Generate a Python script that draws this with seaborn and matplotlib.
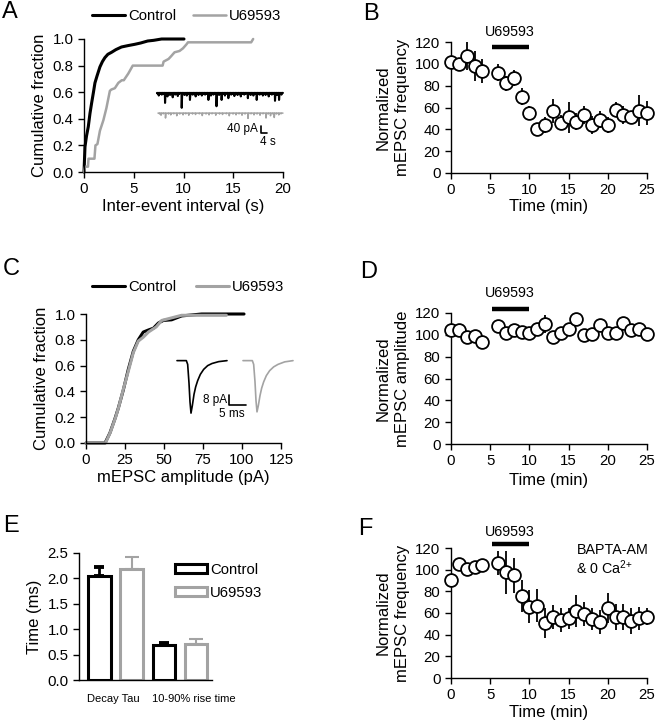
import numpy as np
import pandas as pd
import seaborn as sns
import matplotlib.pyplot as plt
from matplotlib.ticker import FormatStrFormatter
from matplotlib.transforms import ScaledTranslation

W, H = 656, 720
GRAY = '#a3a3a3'

# A: cumulative inter-event interval (s)
iei_ctrl_x = [0, 0.1, 0.25, 0.43, 0.6, 0.77, 0.95, 1.1, 1.3, 1.6, 1.85, 2.1, 2.4, 2.77, 3.2, 3.77, 4.4, 5.1, 5.7, 6.4, 7.0, 7.8, 10.05]
iei_ctrl_y = [0, 0.19, 0.27, 0.34, 0.44, 0.52, 0.60, 0.67, 0.72, 0.79, 0.83, 0.86, 0.885, 0.90, 0.92, 0.94, 0.95, 0.96, 0.97, 0.985, 0.99, 1.0, 1.0]
iei_u_x = [0, 0.1, 0.4, 0.45, 1.05, 1.15, 1.35, 1.6, 1.95, 2.25, 2.6, 2.75, 3.1, 3.45, 3.8, 4.0, 4.45, 4.9, 7.9, 8.0, 8.5, 8.75, 9.1, 9.6, 9.95, 10.3, 10.45, 16.8, 17.0]
iei_u_y = [0, 0.04, 0.04, 0.1, 0.1, 0.2, 0.21, 0.31, 0.39, 0.48, 0.61, 0.62, 0.63, 0.67, 0.69, 0.69, 0.74, 0.8, 0.8, 0.83, 0.85, 0.87, 0.9, 0.91, 0.93, 0.96, 0.975, 0.975, 1.0]

# A inset: example recordings, event times (s) and amplitudes (pA)
ctrl_spk_t = [1.8, 2.5, 3.6, 4.5, 5.4, 6.7, 7.4, 8.3, 9.2, 10.0, 11.0, 11.8, 12.6, 13.4, 14.3, 15.2,
              16.2, 17.8, 18.7, 19.6, 20.4, 21.2, 22.2, 23.3, 24.1, 25.0, 26.0, 27.1, 28.0, 29.0,
              30.1, 31.2, 32.3, 33.4, 34.5, 35.6, 36.4, 37.3, 38.2, 39.0, 40.0, 41.0, 41.8, 42.7,
              43.5, 44.4, 45.5, 46.6, 47.7, 48.9, 49.8, 50.8, 51.8, 52.9, 54.0, 55.0, 56.1, 57.2,
              58.3, 59.5, 60.6, 61.9, 62.9, 63.8, 64.7, 65.6, 66.7, 67.8, 68.8, 69.8, 70.9, 71.9,
              72.8, 73.7, 74.8, 75.8, 76.9, 77.9, 79.0, 80.0, 81.4, 82.7, 83.5, 84.3]
ctrl_spk_a = [6, 15, 5, 10, 7, 57, 5, 20, 6, 12, 8, 25, 5, 10, 7, 18,
              6, 85, 5, 12, 7, 15, 6, 40, 5, 10, 8, 20, 6, 12,
              5, 15, 7, 10, 6, 40, 5, 15, 7, 10, 6, 76, 5, 12,
              7, 40, 6, 15, 5, 30, 7, 10, 6, 18, 5, 12, 8, 20,
              6, 10, 5, 30, 7, 12, 6, 15, 5, 40, 7, 10, 6, 15,
              5, 12, 7, 20, 6, 10, 5, 45, 12, 40, 6, 10]
u_spk_t = [3.0, 4.0, 5.5, 7.0, 9.0, 10.5, 12.5, 14.5, 16.5, 18.7, 20.5, 22.5, 25.0, 27.0, 29.5,
           31.5, 34.0, 36.0, 38.0, 40.5, 43.0, 45.0, 47.5, 49.5, 52.0, 54.0, 56.0, 58.0, 60.0, 62.0,
           64.0, 66.0, 68.0, 70.0, 72.0, 74.0, 75.5, 77.0, 78.5, 79.5, 81.0, 82.5, 84.0]
u_spk_a = [5, 12, 4, 28, 5, 10, 4, 15, 5, 10, 4, 12, 5, 8, 4,
           14, 5, 10, 4, 12, 5, 8, 4, 15, 5, 10, 4, 12, 5, 30,
           4, 10, 5, 12, 4, 28, 5, 15, 4, 25, 5, 10, 4]

# C: cumulative amplitude (pA)
amp_ctrl_x = [0, 12.2, 15.4, 18.6, 20.7, 23.9, 27.1, 30.3, 33.5, 36.7, 40.0, 43.2, 46.4, 49.6, 54.9, 61.3, 74.1, 101.3]
amp_ctrl_y = [0, 0, 0.08, 0.19, 0.27, 0.41, 0.57, 0.71, 0.80, 0.86, 0.876, 0.89, 0.93, 0.95, 0.955, 0.985, 1.0, 1.0]
amp_u_x = [0, 12.5, 15.5, 19.0, 21.0, 24.0, 27.2, 30.3, 33.5, 36.7, 40.0, 45.0, 48.5, 54.9, 61.3, 90.0]
amp_u_y = [0, 0, 0.08, 0.2, 0.28, 0.42, 0.56, 0.70, 0.79, 0.82, 0.86, 0.90, 0.95, 0.97, 0.99, 0.99]

# C inset: averaged mEPSCs (ms, pA)
mini_t = [0, 2.8, 3.2, 3.6, 3.9, 4.2, 4.6, 5.1, 5.6, 6.2, 7.0, 8.0, 9.2, 10.5, 12.5, 15.0]
mini_ctrl = [0, 0, -3, -18, -33, -42, -36, -27, -21, -16, -11, -7, -4, -2.3, -0.8, 0]
mini_u = [0, 0, -3, -17, -32, -41, -36, -28, -22, -17, -12, -8, -5, -3, -1, 0]

# B, D, F: time courses (min)
t_min = [0, 1, 2, 3, 4, 6, 7, 8, 9, 10, 11, 12, 13, 14, 15, 16, 17, 18, 19, 20, 21, 22, 23, 24, 25]
freq_b = [102, 100, 107, 98, 93, 92, 82, 87, 70, 55, 40, 44, 57, 46, 51, 47, 53, 44, 49, 44, 58, 53, 51, 57, 55]
freq_b_err = [5, 5, 13, 14, 11, 8, 7, 7, 8, 6, 5, 7, 11, 7, 14, 8, 8, 8, 8, 7, 7, 8, 5, 14, 11]
amp_d = [104, 104.4, 97.7, 98.9, 93.7, 108.1, 101.4, 104.4, 102.3, 102, 105, 109.9, 98.3, 101.4, 105,
         114.5, 99.8, 100.4, 109, 101.4, 101.4, 111.1, 104.4, 105, 100.4]
amp_d_err = [3, 3, 3, 3, 3, 3, 3, 3, 3, 3, 3, 8, 3, 3, 3, 3, 3, 3, 3, 3, 3, 3, 3, 3, 3]
freq_f = [90.5, 105.5, 101, 102.8, 104, 105.8, 97.6, 94.8, 75.7, 65.8, 66.8, 50.5, 56.6, 53.5, 55,
          61.8, 58.8, 54.5, 51.4, 64.9, 56.6, 56.6, 52.6, 55, 56.6]
freq_f_err = [3, 3, 3, 3, 3, 11, 20, 16, 15, 15, 15, 14, 11, 11, 10, 15, 11, 10, 11, 14, 12, 12, 12, 11, 8]
drug_on, drug_off = 5.2, 9.9

# E: kinetics (ms)
measures = ['Decay Tau', '10-90% rise time']
conds = ['Control', 'U69593']
kin_ctrl = [2.05, 0.69]
kin_ctrl_err = [0.17, 0.04]
kin_u = [2.18, 0.71]
kin_u_err = [0.25, 0.09]

sns.set_style('ticks')
plt.rcParams['font.family'] = ['Liberation Sans', 'DejaVu Sans']
plt.rcParams.update({
    'axes.edgecolor': 'black', 'axes.linewidth': 1.0, 'axes.labelcolor': 'black',
    'xtick.color': 'black', 'ytick.color': 'black', 'text.color': 'black',
    'xtick.major.size': 4, 'ytick.major.size': 4,
    'xtick.major.width': 1.0, 'ytick.major.width': 1.0,
    'xtick.labelsize': 10.8, 'ytick.labelsize': 10.8, 'axes.labelsize': 12,
    'mathtext.fontset': 'custom', 'mathtext.rm': 'Liberation Sans',
})

fig = plt.figure(figsize=(W / 100, H / 100), dpi=100)


def px_axes(left, right, top, bottom):
    return fig.add_axes([left / W, 1 - bottom / H, (right - left) / W, (bottom - top) / H])


def trace(times, amps, start, end, offset):
    xs, ys = [start], [offset]
    for t, a in zip(times, amps):
        xs += [t - 0.15, t, t + 0.35]
        ys += [offset, offset - a, offset]
    xs.append(end)
    ys.append(offset)
    return xs, ys


# ---------------- A ----------------
ax = px_axes(84, 283, 39, 172)
sns.lineplot(x=iei_ctrl_x, y=iei_ctrl_y, sort=False, estimator=None, color='black', lw=2.2, label='Control', ax=ax)
sns.lineplot(x=iei_u_x, y=iei_u_y, sort=False, estimator=None, color=GRAY, lw=1.8, label='U69593', ax=ax)
for ln in ax.lines:
    ln.set_clip_on(False)
ax.set_xlim(0, 20)
ax.set_ylim(0, 1)
ax.set_xticks([0, 5, 10, 15, 20])
ax.set_yticks(np.arange(0, 1.01, 0.2))
ax.yaxis.set_major_formatter(FormatStrFormatter('%.1f'))
ax.set_xlabel('Inter-event interval (s)', labelpad=2)
ax.set_ylabel('Cumulative fraction', labelpad=4)
sns.despine(ax=ax)
ax.legend(loc='center left', bbox_to_anchor=(92 / W, 1 - 16 / H), bbox_transform=fig.transFigure,
          ncol=2, frameon=False, handlelength=2.2, handletextpad=0.25, columnspacing=1.1,
          borderpad=0, borderaxespad=0, fontsize=10.7)

ins = px_axes(155, 290, 85, 150)
ins.set_xlim(0, 90)
ins.set_ylim(-325, 45)
ins.axis('off')
x, y = trace(ctrl_spk_t, ctrl_spk_a, 1.3, 85.3, 0)
ins.plot(x, y, color='black', lw=1.5)
x, y = trace(u_spk_t, u_spk_a, 2.0, 85.3, -115)
ins.plot(x, y, color=GRAY, lw=1.1)
ins.plot([70.7, 70.7, 74.7], [-189, -229, -229], color='black', lw=1.2)
ins.text(68.7, -205, '40 pA', ha='right', va='center', fontsize=8.5)
ins.text(75.5, -280, '4 s', ha='center', va='center', fontsize=8.5)


# ---------------- time courses ----------------
def timecourse(ax, t, vals, errs, ylabel, bar_y, text_y):
    ax.errorbar(t, vals, yerr=errs, fmt='none', ecolor='black', elinewidth=1.3, capsize=0, zorder=2, clip_on=False)
    sns.scatterplot(x=t, y=vals, ax=ax, s=85, color='white', edgecolor='black', linewidth=1.3,
                    zorder=3, clip_on=False, legend=False)
    ax.plot([drug_on, drug_off], [bar_y, bar_y], color='black', lw=3.2, solid_capstyle='butt', clip_on=False)
    ax.text((drug_on + drug_off) / 2, text_y, 'U69593', ha='center', va='center', fontsize=10.3)
    ax.set_xlim(0, 25)
    ax.set_ylim(0, 120)
    ax.set_xticks([0, 5, 10, 15, 20, 25])
    ax.set_yticks(range(0, 121, 20))
    ax.set_xlabel('Time (min)', labelpad=1)
    ax.set_ylabel(ylabel, linespacing=1.3, labelpad=4)
    sns.despine(ax=ax)


ax = px_axes(451, 647, 42, 173)
timecourse(ax, t_min, freq_b, freq_b_err, 'Normalized\nmEPSC frequency', 115.7, 129)

ax = px_axes(451, 647, 313, 444)
timecourse(ax, t_min, amp_d, amp_d_err, 'Normalized\nmEPSC amplitude', 123.4, 138)
ax.xaxis.labelpad = 3

ax = px_axes(451, 647, 548, 678)
timecourse(ax, t_min, freq_f, freq_f_err, 'Normalized\nmEPSC frequency', 123.6, 135)
ax.xaxis.labelpad = 1.5
ax.text(16.0, 118, 'BAPTA-AM', ha='left', va='center', fontsize=10.3)
ax.text(16.0, 101.7, r'& 0 Ca$^{\mathregular{2{+}}}$', ha='left', va='center', fontsize=10.3)

# ---------------- C ----------------
ax = px_axes(86, 281, 314, 443)
sns.lineplot(x=amp_ctrl_x, y=amp_ctrl_y, sort=False, estimator=None, color='black', lw=2.2, label='Control', ax=ax)
sns.lineplot(x=amp_u_x, y=amp_u_y, sort=False, estimator=None, color=GRAY, lw=2.2, label='U69593', ax=ax)
for ln in ax.lines:
    ln.set_clip_on(False)
ax.set_xlim(0, 125)
ax.set_ylim(0, 1)
ax.set_xticks(range(0, 126, 25))
ax.set_yticks(np.arange(0, 1.01, 0.2))
ax.yaxis.set_major_formatter(FormatStrFormatter('%.1f'))
ax.set_xlabel('mEPSC amplitude (pA)', labelpad=2)
ax.set_ylabel('Cumulative fraction', labelpad=4)
sns.despine(ax=ax)
ax.legend(loc='center left', bbox_to_anchor=(92 / W, 1 - 287 / H), bbox_transform=fig.transFigure,
          ncol=2, frameon=False, handlelength=2.2, handletextpad=0.25, columnspacing=1.3,
          borderpad=0, borderaxespad=0, fontsize=10.7)

ins = px_axes(175, 300, 350, 420)
ins.set_xlim(0, 37.5)
ins.set_ylim(-47.5, 8.5)
ins.axis('off')
ins.plot([v + 0.6 for v in mini_t], mini_ctrl, color='black', lw=1.2)
ins.plot([v + 20.4 for v in mini_t], mini_u, color=GRAY, lw=1.2)
ins.plot([16.3, 16.3, 21.3], [-27.5, -35.5, -35.5], color='black', lw=1.2)
ins.text(15.6, -31.5, '8 pA', ha='right', va='center', fontsize=8.5)
ins.text(17.0, -42.5, '5 ms', ha='center', va='center', fontsize=8.5)

# ---------------- E ----------------
ax = px_axes(79, 212, 553, 680)
kin = pd.DataFrame({
    'measure': measures * 2,
    'cond': [conds[0]] * 2 + [conds[1]] * 2,
    'value': kin_ctrl + kin_u,
})
sns.barplot(data=kin, x='measure', y='value', hue='cond', order=measures, hue_order=conds,
            palette=['black', GRAY], fill=False, linewidth=2.2, width=1.0, gap=0.3,
            errorbar=None, ax=ax)
err_style = [dict(ecolor='black', elinewidth=2.0, capsize=3.5, capthick=2.8),
             dict(ecolor=GRAY, elinewidth=1.5, capsize=5, capthick=1.5)]
for cont, errs, st in zip(ax.containers, [kin_ctrl_err, kin_u_err], err_style):
    for bar, e in zip(cont, errs):
        xc = bar.get_x() + bar.get_width() / 2
        ax.errorbar(xc, bar.get_height(), yerr=[[0], [e]], fmt='none', zorder=1, **st)
ax.set_xlim(-0.567, 1.497)
ax.set_ylim(0, 2.5)
ax.set_yticks(np.arange(0, 2.51, 0.5))
ax.yaxis.set_major_formatter(FormatStrFormatter('%.1f'))
ax.tick_params(axis='x', length=0, labelsize=8, pad=10)
for lab, dx in zip(ax.get_xticklabels(), [-2, 14]):
    lab.set_transform(lab.get_transform() + ScaledTranslation(dx / 100, 0, fig.dpi_scale_trans))
ax.set_xlabel('')
ax.set_ylabel('Time (ms)', labelpad=4)
sns.despine(ax=ax)
sns.move_legend(ax, 'upper left', bbox_to_anchor=(175 / W, 1 - 563 / H), bbox_transform=fig.transFigure,
                title=None, frameon=False, handlelength=2.15, handleheight=0.6, handletextpad=0.2,
                labelspacing=0.6, borderpad=0, borderaxespad=0, fontsize=10.7)

# panel letters
for letter, xp, yp in [('A', 2, 1), ('B', 363, 3), ('C', 3, 258), ('D', 360, 261), ('E', 3, 515), ('F', 358, 518)]:
    fig.text(xp / W, 1 - yp / H, letter, ha='left', va='top', fontsize=17)

fig.savefig('out.png', dpi=100)
